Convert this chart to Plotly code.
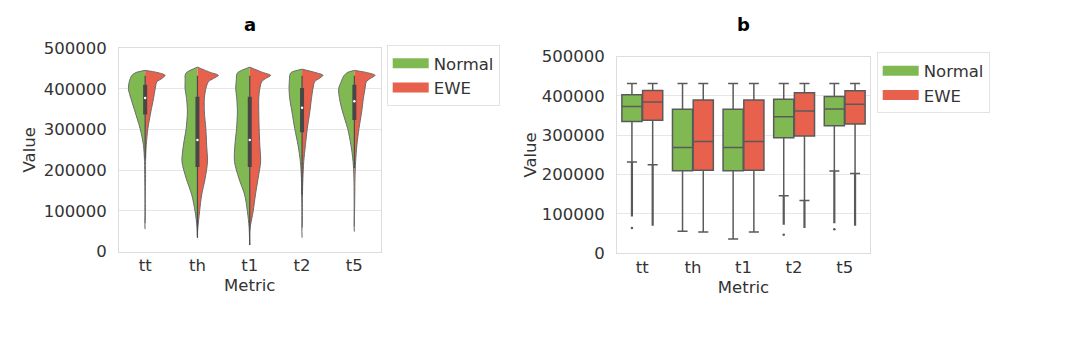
import plotly.graph_objects as go

# ---------------- data ----------------
METRICS = ["tt", "th", "t1", "t2", "t5"]
GROUPS = ["Normal", "EWE"]
COLORS = {"Normal": "#80b952", "EWE": "#e8614d"}

# Panel a: split violins. Relative density (1 = widest half) read at these value levels.
DENSITY_LEVELS = [440000, 433000, 425000, 417000, 400000, 376000, 343000, 302000,
                  261000, 221000, 180000, 139000, 98000, 60000, 30000]
VIOLIN_TOP = [445000, 453000, 453000, 448000, 445000]
NORMAL_VIOLIN_BOTTOM = [55000, 34000, 16000, 34000, 49000]
EWE_VIOLIN_BOTTOM = [70000, 45000, 50000, 58000, 62000]
NORMAL_DENSITY = [
    [0.43, 0.63, 0.71, 0.76, 0.80, 0.68, 0.48, 0.24, 0.08, 0.03, 0.02, 0.01, 0.01, 0.01, None],
    [0.52, 0.59, 0.59, 0.59, 0.59, 0.52, 0.48, 0.54, 0.67, 0.74, 0.54, 0.27, 0.11, 0.02, None],
    [0.57, 0.63, 0.64, 0.65, 0.67, 0.62, 0.59, 0.63, 0.71, 0.73, 0.52, 0.24, 0.11, 0.03, 0.01],
    [0.52, 0.59, 0.60, 0.61, 0.62, 0.59, 0.48, 0.35, 0.19, 0.08, 0.03, 0.02, 0.01, 0.01, None],
    [0.33, 0.48, 0.57, 0.63, 0.75, 0.71, 0.56, 0.32, 0.16, 0.06, 0.02, 0.01, 0.01, 0.01, None],
]
EWE_DENSITY = [
    [0.57, 0.95, 0.80, 0.56, 0.48, 0.40, 0.27, 0.13, 0.05, 0.02, 0.02, 0.01, 0.01, None, None],
    [0.62, 1.00, 0.76, 0.52, 0.40, 0.33, 0.33, 0.40, 0.44, 0.48, 0.37, 0.20, 0.10, 0.02, None],
    [0.62, 1.00, 0.76, 0.57, 0.48, 0.43, 0.43, 0.45, 0.48, 0.52, 0.40, 0.27, 0.16, 0.02, None],
    [0.62, 1.00, 0.81, 0.60, 0.52, 0.45, 0.37, 0.25, 0.16, 0.08, 0.04, 0.02, 0.02, 0.01, None],
    [0.57, 0.99, 0.76, 0.57, 0.51, 0.43, 0.35, 0.22, 0.12, 0.06, 0.03, 0.02, 0.01, None, None],
]
# inner box of the violins (both groups combined)
INNER_Q1 = [337000, 208000, 208000, 293000, 323000]
INNER_MEDIAN = [377000, 274000, 274000, 353000, 369000]
INNER_Q3 = [410000, 380000, 380000, 402000, 410000]
INNER_WHISKER_LO = [228000, 34000, 16000, 140000, 205000]
INNER_WHISKER_HI = [432000, 432000, 432000, 432000, 432000]

# Panel b: box plot statistics
NORMAL_Q1 = [335000, 210000, 210000, 294000, 324000]
NORMAL_MEDIAN = [373000, 269000, 269000, 347000, 367000]
NORMAL_Q3 = [403000, 366000, 366000, 392000, 399000]
NORMAL_LOWER = [232000, 56000, 36000, 146000, 209000]
NORMAL_UPPER = [432000, 432000, 432000, 432000, 432000]
NORMAL_FLIER_END = [93000, None, None, 72000, 76000]
NORMAL_FLIER_MIN = [64000, None, None, 47000, 61000]

EWE_Q1 = [338000, 211000, 211000, 298000, 329000]
EWE_MEDIAN = [385000, 284000, 284000, 362000, 379000]
EWE_Q3 = [414000, 390000, 390000, 408000, 413000]
EWE_LOWER = [225000, 54000, 54000, 134000, 203000]
EWE_UPPER = [432000, 432000, 432000, 432000, 432000]
EWE_FLIER_END = [70000, None, None, 64000, 70000]
EWE_FLIER_MIN = [None, None, None, None, None]

Y_TICKS = [0, 100000, 200000, 300000, 400000, 500000]

# ---------------- style / page geometry ----------------
FW, FH = 1064, 330          # figure size
OX, OY, SY = 8, 16.5, 0.945  # observed placement of the figure in the photograph


def fx(px):
    return (px - OX) / FW


def fy(py):
    return 1 - ((py - OY) / SY) / FH


FONT = "DejaVu Sans, Noto Sans, sans-serif"
FS = 16.5
TXT = "#333333"
EDGE = "#5a5a5a"
GRID = "#e6e6e6"
VIOLIN_HALF = 0.4
BOX_GAP = 0.18

fig = go.Figure()

# ---- panel a: split violins ----
for g in GROUPS:
    dens_all = NORMAL_DENSITY if g == "Normal" else EWE_DENSITY
    bottoms = NORMAL_VIOLIN_BOTTOM if g == "Normal" else EWE_VIOLIN_BOTTOM
    sign = -1 if g == "Normal" else 1
    for i, m in enumerate(METRICS):
        xs, ys = [i], [VIOLIN_TOP[i]]
        for lvl, d in zip(DENSITY_LEVELS, dens_all[i]):
            if d is None or not (bottoms[i] < lvl < VIOLIN_TOP[i]):
                continue
            xs.append(i + sign * d * VIOLIN_HALF)
            ys.append(lvl)
        xs.append(i)
        ys.append(bottoms[i])
        fig.add_trace(go.Scatter(
            x=xs, y=ys, mode="lines", fill="toself", fillcolor=COLORS[g],
            line=dict(color="#6a6a6a", width=1, shape="spline", smoothing=0.8),
            showlegend=False, hoverinfo="skip", offsetgroup="a",
            xaxis="x", yaxis="y"))

wx, wy = [], []
for i in range(len(METRICS)):
    wx += [i, i, None]
    wy += [INNER_WHISKER_LO[i], INNER_WHISKER_HI[i], None]
fig.add_trace(go.Scatter(x=wx, y=wy, mode="lines", line=dict(color="#4a4a4a", width=1.2),
                         showlegend=False, hoverinfo="skip", offsetgroup="a", xaxis="x", yaxis="y"))
bx, by = [], []
for i in range(len(METRICS)):
    bx += [i, i, None]
    by += [INNER_Q1[i], INNER_Q3[i], None]
fig.add_trace(go.Scatter(x=bx, y=by, mode="lines", line=dict(color="#474747", width=4),
                         showlegend=False, hoverinfo="skip", offsetgroup="a", xaxis="x", yaxis="y"))
fig.add_trace(go.Scatter(x=list(range(len(METRICS))), y=INNER_MEDIAN, mode="markers",
                         marker=dict(color="white", size=2.5),
                         showlegend=False, hoverinfo="skip", offsetgroup="a", xaxis="x", yaxis="y"))

for g in GROUPS:
    fig.add_trace(go.Scatter(x=[None], y=[None], mode="lines", name=g,
                             line=dict(color=COLORS[g], width=12),
                             offsetgroup="a", xaxis="x", yaxis="y", legend="legend"))

# ---- panel b: grouped boxes ----
stats = {
    "Normal": (NORMAL_Q1, NORMAL_MEDIAN, NORMAL_Q3, NORMAL_LOWER, NORMAL_UPPER, NORMAL_FLIER_END, NORMAL_FLIER_MIN),
    "EWE": (EWE_Q1, EWE_MEDIAN, EWE_Q3, EWE_LOWER, EWE_UPPER, EWE_FLIER_END, EWE_FLIER_MIN),
}
for g in GROUPS:
    q1, med, q3, lo, hi, fend, fmin = stats[g]
    fig.add_trace(go.Box(
        x=METRICS, q1=q1, median=med, q3=q3, lowerfence=lo, upperfence=hi,
        name=g, offsetgroup=g, fillcolor=COLORS[g], line=dict(color=EDGE, width=1.5),
        whiskerwidth=0.5, boxpoints=False, showlegend=False, hoverinfo="skip",
        xaxis="x2", yaxis="y2"))
    lx, ly = [], []
    for m, a, b in zip(METRICS, lo, fend):
        if b is None:
            continue
        lx += [m, m, None]
        ly += [a, b, None]
    fig.add_trace(go.Scatter(x=lx, y=ly, mode="lines", line=dict(color=EDGE, width=2.2),
                             offsetgroup=g, showlegend=False, hoverinfo="skip",
                             xaxis="x2", yaxis="y2"))
    mx, my = [], []
    for m, v in zip(METRICS, fmin):
        if v is not None:
            mx.append(m)
            my.append(v)
    fig.add_trace(go.Scatter(x=mx if mx else [None], y=my if my else [None], mode="markers",
                             marker=dict(color=EDGE, size=2.5),
                             offsetgroup=g, showlegend=False, hoverinfo="skip",
                             xaxis="x2", yaxis="y2"))
for g in GROUPS:
    fig.add_trace(go.Scatter(x=[None], y=[None], mode="lines", name=g,
                             line=dict(color=COLORS[g], width=12),
                             offsetgroup=g, xaxis="x2", yaxis="y2", legend="legend2"))


def yax(domain, standoff):
    return dict(domain=domain, range=[0, 500000], tickvals=Y_TICKS, tickformat="d",
                showgrid=True, gridcolor=GRID, gridwidth=1, zeroline=False,
                showline=True, mirror=True, linecolor="#dddddd", linewidth=1,
                ticks="", ticklabelstandoff=8,
                tickfont=dict(size=FS, color=TXT, family=FONT),
                title=dict(text="Value", font=dict(size=FS, color=TXT, family=FONT), standoff=standoff))


def xax_common(domain):
    return dict(domain=domain, range=[-0.5, 4.5], showgrid=False, zeroline=False,
                showline=True, mirror=True, linecolor="#dddddd", linewidth=1,
                ticks="", ticklabelstandoff=-1,
                tickfont=dict(size=FS, color=TXT, family=FONT),
                title=dict(text="Metric", font=dict(size=FS, color=TXT, family=FONT), standoff=5))


xa = xax_common([fx(119), fx(380.5)])
xa.update(tickvals=list(range(len(METRICS))), ticktext=METRICS)
xb = xax_common([fx(617), fx(870)])
xb.update(type="category", categoryorder="array", categoryarray=METRICS, anchor="y2")
ya = yax([fy(251.7), fy(47.6)], 3)
yb = yax([fy(253.3), fy(56.3)], 0)
yb.update(anchor="x2")

legend_common = dict(xanchor="left", yanchor="top", bgcolor="white", bordercolor="#e3e3e3",
                     borderwidth=1, font=dict(size=FS, color=TXT, family=FONT),
                     itemwidth=36, tracegroupgap=0)

fig.update_layout(
    width=FW, height=FH, margin=dict(l=0, r=0, t=0, b=0),
    paper_bgcolor="white", plot_bgcolor="white",
    font=dict(family=FONT, color=TXT, size=FS),
    xaxis=xa, yaxis=ya, xaxis2=xb, yaxis2=yb,
    boxmode="group", boxgap=BOX_GAP, boxgroupgap=0.03,
    scattermode="group", scattergap=BOX_GAP,
    legend=dict(legend_common, x=fx(386.7), y=fy(44.5)),
    legend2=dict(legend_common, x=fx(876.7), y=fy(52)),
    annotations=[
        dict(text="<b>a</b>", xref="x domain", x=0.5, yref="paper", y=fy(24),
             xanchor="center", yanchor="middle", showarrow=False,
             font=dict(size=18, color="black", family=FONT)),
        dict(text="<b>b</b>", xref="x2 domain", x=0.5, yref="paper", y=fy(24),
             xanchor="center", yanchor="middle", showarrow=False,
             font=dict(size=18, color="black", family=FONT)),
    ],
)

fig.write_html("out.html")
